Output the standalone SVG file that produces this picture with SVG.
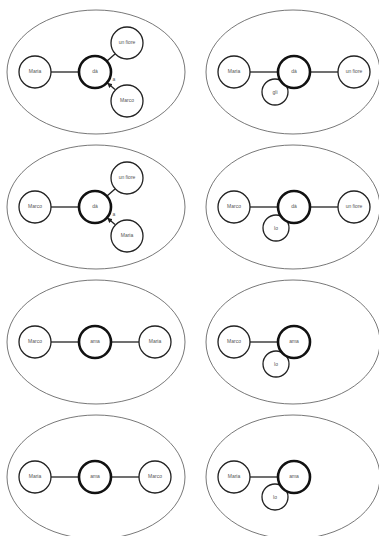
<svg xmlns="http://www.w3.org/2000/svg" width="379" height="536" viewBox="0 0 379 536">
<defs>
<style>
.frame{fill:none;stroke:#555;stroke-width:0.8}
.n{fill:#fff;stroke:#222;stroke-width:1.3}
.h{fill:#fff;stroke:#111;stroke-width:2.6}
.e{stroke:#222;stroke-width:1.3;fill:none}
text{font-family:"Liberation Sans",Arial,sans-serif;font-size:5px;fill:#555;text-anchor:middle;dominant-baseline:middle}
</style>
<marker id="ah" viewBox="0 0 10 10" refX="9" refY="5" markerWidth="4" markerHeight="4" orient="auto"><path d="M0,0L10,5L0,10z" fill="#222"/></marker>
</defs>
<g id="frames">
<ellipse class="frame" cx="96" cy="72" rx="89" ry="62"/>
<ellipse class="frame" cx="293" cy="72" rx="87" ry="62"/>
<ellipse class="frame" cx="96" cy="207" rx="89" ry="62"/>
<ellipse class="frame" cx="293" cy="207" rx="87" ry="62"/>
<ellipse class="frame" cx="96" cy="342" rx="89" ry="62"/>
<ellipse class="frame" cx="293" cy="342" rx="87" ry="62"/>
<ellipse class="frame" cx="96" cy="477" rx="89" ry="62"/>
<ellipse class="frame" cx="293" cy="477" rx="87" ry="62"/>
</g>
<g id="connectors">
<line class="e" x1="51" y1="72" x2="79" y2="72"/>
<line class="e" x1="107" y1="61" x2="115" y2="54"/>
<line class="e" x1="115" y1="89.5" x2="107.5" y2="83" marker-end="url(#ah)"/>
<text x="114" y="80">a</text>
<line class="e" x1="250" y1="72" x2="278" y2="72"/>
<line class="e" x1="310" y1="72" x2="338" y2="72"/>
<line class="e" x1="51" y1="207" x2="79" y2="207"/>
<line class="e" x1="107" y1="196" x2="115" y2="189"/>
<line class="e" x1="115" y1="224.5" x2="107.5" y2="218" marker-end="url(#ah)"/>
<text x="114" y="215">a</text>
<line class="e" x1="250" y1="207" x2="278" y2="207"/>
<line class="e" x1="310" y1="207" x2="338" y2="207"/>
<line class="e" x1="51" y1="342" x2="79" y2="342"/>
<line class="e" x1="111" y1="342" x2="139" y2="342"/>
<line class="e" x1="250" y1="342" x2="278" y2="342"/>
<line class="e" x1="51" y1="477" x2="79" y2="477"/>
<line class="e" x1="111" y1="477" x2="139" y2="477"/>
<line class="e" x1="250" y1="477" x2="278" y2="477"/>
</g>
<g id="p1-maria"><circle class="n" cx="35" cy="72" r="16"/><text x="35" y="72">Maria</text></g>
<g id="p1-da"><circle class="h" cx="95" cy="72" r="16"/><text x="95" y="72">dà</text></g>
<g id="p1-unfiore"><circle class="n" cx="127" cy="43" r="16"/><text x="127" y="43">un fiore</text></g>
<g id="p1-marco"><circle class="n" cx="127" cy="101" r="16"/><text x="127" y="101">Marco</text></g>
<g id="p2-maria"><circle class="n" cx="234" cy="72" r="16"/><text x="234" y="72">Maria</text></g>
<g id="p2-gli"><circle class="n" cx="275" cy="92" r="13"/><text x="275" y="93">gli</text></g>
<g id="p2-da"><circle class="h" cx="294" cy="72" r="16"/><text x="294" y="72">dà</text></g>
<g id="p2-unfiore"><circle class="n" cx="354" cy="72" r="16"/><text x="354" y="72">un fiore</text></g>
<g id="p3-marco"><circle class="n" cx="35" cy="207" r="16"/><text x="35" y="207">Marco</text></g>
<g id="p3-da"><circle class="h" cx="95" cy="207" r="16"/><text x="95" y="207">dà</text></g>
<g id="p3-unfiore"><circle class="n" cx="127" cy="178" r="16"/><text x="127" y="178">un fiore</text></g>
<g id="p3-maria"><circle class="n" cx="127" cy="236" r="16"/><text x="127" y="236">Maria</text></g>
<g id="p4-marco"><circle class="n" cx="234" cy="207" r="16"/><text x="234" y="207">Marco</text></g>
<g id="p4-lo"><circle class="n" cx="276" cy="228" r="13"/><text x="276" y="229">lo</text></g>
<g id="p4-da"><circle class="h" cx="294" cy="207" r="16"/><text x="294" y="207">dà</text></g>
<g id="p4-unfiore"><circle class="n" cx="354" cy="207" r="16"/><text x="354" y="207">un fiore</text></g>
<g id="p5-marco"><circle class="n" cx="35" cy="342" r="16"/><text x="35" y="342">Marco</text></g>
<g id="p5-ama"><circle class="h" cx="95" cy="342" r="16"/><text x="95" y="342">ama</text></g>
<g id="p5-maria"><circle class="n" cx="155" cy="342" r="16"/><text x="155" y="342">Maria</text></g>
<g id="p6-marco"><circle class="n" cx="234" cy="342" r="16"/><text x="234" y="342">Marco</text></g>
<g id="p6-lo"><circle class="n" cx="276" cy="364" r="13"/><text x="276" y="365">lo</text></g>
<g id="p6-ama"><circle class="h" cx="294" cy="342" r="16"/><text x="294" y="342">ama</text></g>
<g id="p7-maria"><circle class="n" cx="35" cy="477" r="16"/><text x="35" y="477">Maria</text></g>
<g id="p7-ama"><circle class="h" cx="95" cy="477" r="16"/><text x="95" y="477">ama</text></g>
<g id="p7-marco"><circle class="n" cx="155" cy="477" r="16"/><text x="155" y="477">Marco</text></g>
<g id="p8-maria"><circle class="n" cx="234" cy="477" r="16"/><text x="234" y="477">Maria</text></g>
<g id="p8-lo"><circle class="n" cx="275" cy="497" r="13"/><text x="275" y="498">lo</text></g>
<g id="p8-ama"><circle class="h" cx="294" cy="477" r="16"/><text x="294" y="477">ama</text></g>
</svg>
